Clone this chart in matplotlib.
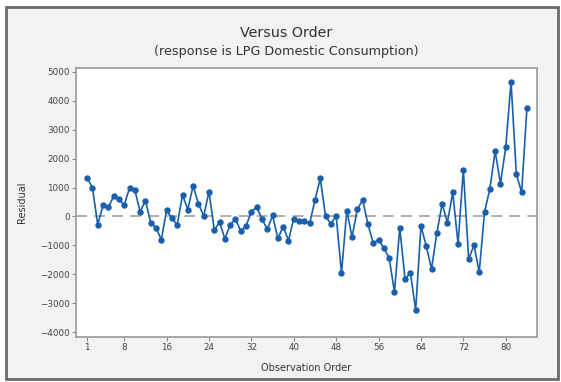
import matplotlib.pyplot as plt
from matplotlib.patches import Rectangle
import numpy as np

# residuals in observation order
residuals = [
    1340, 990, -280, 380, 310, 700, 590, 400, 980, 920,
    160, 550, -210, -390, -800, 220, -60, -290, 740, 240,
    1060, 440, 15, 860, -470, -200, -770, -285, -90, -505,
    -325, 170, 330, -95, -440, 35, -760, -350, -830, -70,
    -160, -150, -230, 560, 1320, 0, -250, 20, -1960, 200,
    -700, 250, 570, -270, -920, -800, -1090, -1430, -2610, -390,
    -2170, -1935, -3240, -330, -1020, -1810, -570, 435, -210, 835,
    -950, 1620, -1480, -990, -1920, 155, 945, 2255, 1135, 2390,
    4660, 1460, 835, 3755,
]
order = np.arange(1, len(residuals) + 1)

x_ticks = [1, 8, 16, 24, 32, 40, 48, 56, 64, 72, 80]
y_ticks = [-4000, -3000, -2000, -1000, 0, 1000, 2000, 3000, 4000, 5000]

W, H = 561, 382
plt.rcParams['font.family'] = ['DejaVu Sans']

fig = plt.figure(figsize=(W / 100, H / 100), dpi=100, facecolor='white')

# grey panel with a dark frame, kept behind the axes
panel = Rectangle((6 / W, 3 / H), 552 / W, 372 / H, transform=fig.transFigure,
                  facecolor='#f2f2f2', edgecolor='#6a6a6a', linewidth=2.0, zorder=-5)
fig.patches.append(panel)

ax = fig.add_axes([76 / W, 1 - 336.7 / H, (537 - 76) / W, (336.7 - 67.7) / H])
ax.set_facecolor('white')

ax.axhline(0, color='#a8a8a8', linewidth=1.3, linestyle=(0, (6, 4)), zorder=1)
ax.plot(order, residuals, color='#1a5fab', linewidth=1.2, marker='o',
        markersize=3.6, markerfacecolor='#1a5fab', markeredgecolor='#1a5fab', zorder=2)

ax.set_xlim(-1.1, 85.9)
ax.set_ylim(-4152, 5138)
ax.set_xticks(x_ticks)
ax.set_yticks(y_ticks)
ax.tick_params(axis='both', direction='out', length=3, width=0.8, color='#8a8a8a',
               labelsize=6.3, labelcolor='#444444', pad=1.5)

for side in ax.spines.values():
    side.set_color('#a0a0a0')
    side.set_linewidth(1.3)

ax.set_xlabel('Observation Order', fontsize=7, color='#333333', labelpad=8)
ax.set_ylabel('Residual', fontsize=7, color='#333333', labelpad=9)

fig.text(286 / W, 1 - 33 / H, 'Versus Order', ha='center', va='center',
         fontsize=10.3, color='#333333')
fig.text(286 / W, 1 - 52 / H, '(response is LPG Domestic Consumption)', ha='center',
         va='center', fontsize=9.2, color='#333333')

fig.savefig('out.png', dpi=100, facecolor=fig.get_facecolor())
